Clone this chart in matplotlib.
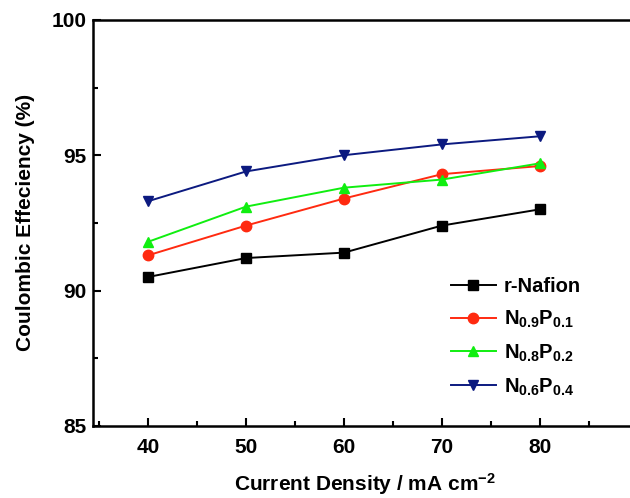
import matplotlib
matplotlib.use("Agg")
from matplotlib import pyplot as plt
from matplotlib.ticker import MultipleLocator

plt.rcParams["font.family"] = "Liberation Sans"
plt.rcParams["font.weight"] = "bold"
plt.rcParams["mathtext.fontset"] = "custom"
plt.rcParams["mathtext.rm"] = "Liberation Sans:bold"
plt.rcParams["mathtext.bf"] = "Liberation Sans:bold"
plt.rcParams["mathtext.default"] = "rm"

current_density = [40, 50, 60, 70, 80]
r_nafion = [90.5, 91.2, 91.4, 92.4, 93.0]
n09p01 = [91.3, 92.4, 93.4, 94.3, 94.6]
n08p02 = [91.8, 93.1, 93.8, 94.1, 94.7]
n06p04 = [93.3, 94.4, 95.0, 95.4, 95.7]

series = [
    (r_nafion, "r-Nafion", "black", "s"),
    (n09p01, r"$N_{0.9}P_{0.1}$", "#ff2a10", "o"),
    (n08p02, r"$N_{0.8}P_{0.2}$", "#10ee10", "^"),
    (n06p04, r"$N_{0.6}P_{0.4}$", "#0c1a80", "v"),
]

fig = plt.figure(figsize=(6.3, 4.98), dpi=100)
ax = fig.add_axes([0.148, 0.145, 0.863, 0.815])

for values, name, color, marker in series:
    ax.plot(current_density, values, color=color, marker=marker, ms=7.5,
            lw=1.4, label=name)

ax.set_xlim(34.4, 89.9)
ax.set_ylim(85, 100)
ax.xaxis.set_major_locator(MultipleLocator(10))
ax.xaxis.set_minor_locator(MultipleLocator(5))
ax.yaxis.set_major_locator(MultipleLocator(5))
ax.yaxis.set_minor_locator(MultipleLocator(2.5))
ax.tick_params(which="both", direction="in", width=1.5, labelsize=15)
ax.tick_params(which="major", length=6)
ax.tick_params(which="minor", length=3.5)
ax.tick_params(axis="x", pad=9)
ax.tick_params(axis="y", pad=5)
for s in ax.spines.values():
    s.set_linewidth(1.8)
ax.spines["right"].set_visible(False)

ax.set_xlabel(r"Current Density / mA cm$^{-2}$", fontsize=15,
              fontweight="bold", labelpad=10)
ax.set_ylabel("Coulombic Effeciency (%)", fontsize=15,
              fontweight="bold", labelpad=12)

ax.legend(loc="lower right", bbox_to_anchor=(0.93, 0.025), frameon=False,
          fontsize=14.5, handlelength=2.2, handletextpad=0.4,
          labelspacing=0.62)

fig.savefig("out.png", dpi=100)
